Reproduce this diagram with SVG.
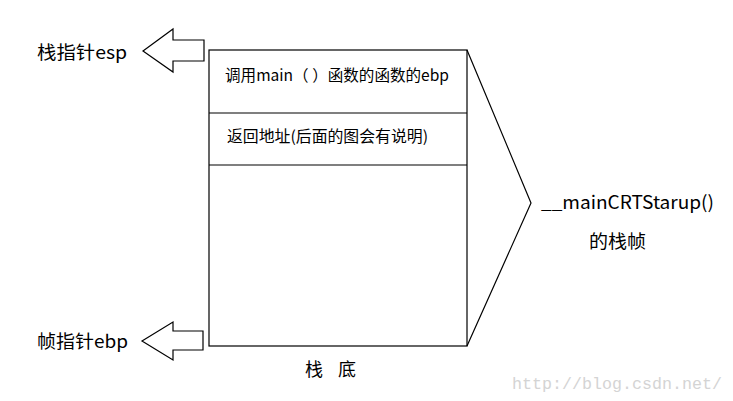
<svg xmlns="http://www.w3.org/2000/svg" width="733" height="401" viewBox="0 0 733 401">
<style>
.s{fill:none;stroke:#000;stroke-width:1.2}
.t{font-family:"Noto Sans CJK SC","Liberation Sans",sans-serif;fill:#000}
.w{font-family:"Liberation Mono","Noto Sans CJK SC",monospace;fill:#d4d4d4;font-size:16.5px}
</style>
<rect width="733" height="401" fill="#fff"/>
<g id="stack">
<rect class="s" x="209" y="50" width="258" height="296"/>
<line class="s" x1="209" y1="113" x2="467" y2="113"/>
<line class="s" x1="209" y1="165" x2="467" y2="165"/>
<text class="t" x="225" y="81" font-size="15.5" textLength="224" lengthAdjust="spacingAndGlyphs">调用main（ ）函数的函数的ebp</text>
<text class="t" x="227" y="142" font-size="15.5" textLength="201" lengthAdjust="spacingAndGlyphs">返回地址(后面的图会有说明)</text>
<text class="t" x="305" y="376" font-size="18">栈</text>
<text class="t" x="338" y="376" font-size="18">底</text>
</g>
<g id="esp">
<text class="t" x="37" y="59" font-size="18" textLength="90" lengthAdjust="spacingAndGlyphs">栈指针esp</text>
</g>
<g id="ebp">
<text class="t" x="37" y="348" font-size="18" textLength="91" lengthAdjust="spacingAndGlyphs">帧指针ebp</text>
</g>
<g id="frame">
<text class="t" x="541" y="209" font-size="18" textLength="173" lengthAdjust="spacingAndGlyphs">__mainCRTStarup()</text>
<text class="t" x="589" y="248" font-size="18" textLength="57" lengthAdjust="spacingAndGlyphs">的栈帧</text>
</g>
<g id="connectors">
<polygon class="s" stroke-width="1" points="143,51 173,29 173,40 204,40 204,61 173,61 173,72"/>
<polygon class="s" stroke-width="1" points="142,341 173,322 173,331 203,331 203,350 173,350 173,360"/>
<polyline class="s" stroke-width="1" points="467,50 531,203 467,346"/>
</g>
<text class="w" x="512" y="389" textLength="210" lengthAdjust="spacingAndGlyphs">http://blog.csdn.net/</text>
</svg>
